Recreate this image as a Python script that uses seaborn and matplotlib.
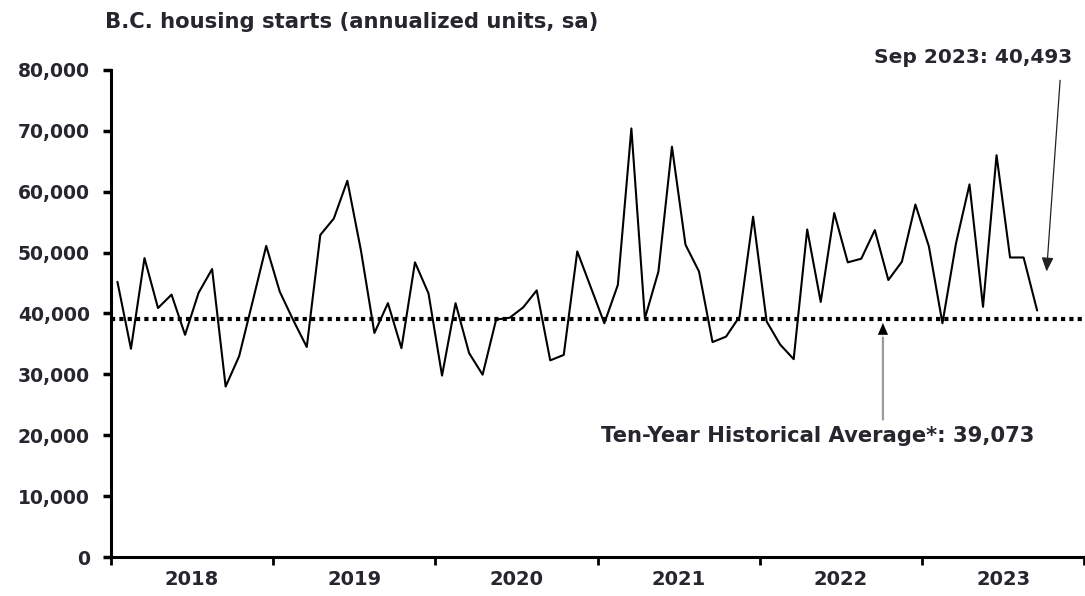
import numpy as np
import pandas as pd
import matplotlib
matplotlib.use("Agg")
import matplotlib.pyplot as plt
import seaborn as sns

# Monthly B.C. housing starts, seasonally adjusted annual rate
years = [2018, 2019, 2020, 2021, 2022, 2023]
starts_2018 = [45200, 34200, 49100, 40900, 43100, 36500, 43400, 47300, 28000, 33000, 42000, 51100]
starts_2019 = [43600, 38900, 34500, 52900, 55600, 61800, 50400, 36800, 41700, 34300, 48400, 43300]
starts_2020 = [29800, 41700, 33500, 29950, 39000, 39300, 41000, 43800, 32300, 33200, 50200, 44300]
starts_2021 = [38400, 44700, 70400, 39200, 46900, 67400, 51300, 46900, 35300, 36200, 39500, 55900]
starts_2022 = [38700, 34900, 32500, 53800, 41900, 56500, 48400, 49000, 53700, 45500, 48500, 57900]
starts_2023 = [51000, 38400, 51500, 61200, 41100, 66000, 49200, 49200, 40493]
ten_year_avg = 39073
y_ticks = [0, 10000, 20000, 30000, 40000, 50000, 60000, 70000, 80000]

values = starts_2018 + starts_2019 + starts_2020 + starts_2021 + starts_2022 + starts_2023
df = pd.DataFrame({"month": np.arange(len(values)), "starts": values})

sns.set_theme(style="white")
plt.rcParams["font.family"] = ["DejaVu Sans"]
plt.rcParams["font.weight"] = "bold"
TXT = "#26262e"

fig = plt.figure(figsize=(10.85, 5.96), dpi=100)
ax = fig.add_axes([0.102, 0.0654, 0.8975, 0.8172])

sns.lineplot(data=df, x="month", y="starts", ax=ax, color="black", linewidth=1.5)
ax.axhline(ten_year_avg, color="black", linewidth=3, linestyle=(0, (1, 1)), zorder=1)

n_months = 12 * len(years)
ax.set_xlim(-0.5, n_months - 0.5)
ax.set_ylim(0, 80000)

# Year boundaries as ticks, year labels centred in each year
ax.set_xticks(np.arange(-0.5, n_months, 12))
ax.set_xticklabels([])
ax.set_xticks(np.arange(5.5, n_months, 12), minor=True)
ax.set_xticklabels([str(y) for y in years], minor=True)
ax.tick_params(axis="x", which="major", direction="out", length=6, width=2, color="black", bottom=True)
ax.tick_params(axis="x", which="minor", length=0, pad=9, labelsize=14, labelcolor=TXT)

ax.set_yticks(y_ticks)
ax.set_yticklabels([f"{v:,}" for v in y_ticks])
ax.tick_params(axis="y", direction="out", length=6, width=2.5, color="black", left=True,
               pad=9, labelsize=13.5, labelcolor=TXT)

for s in ["top", "right"]:
    ax.spines[s].set_visible(False)
for s in ["left", "bottom"]:
    ax.spines[s].set_color("black")
    ax.spines[s].set_linewidth(2.2)
ax.set_xlabel("")
ax.set_ylabel("")
ax.grid(False)

fig.text(105 / 1085, 1 - 28 / 596, "B.C. housing starts (annualized units, sa)",
         fontsize=15.2, fontweight="bold", color=TXT, va="baseline", ha="left")

# Latest month callout
ax.text(63.3, 82100, f"Sep 2023: {values[-1]:,}", ha="center", va="center",
        fontsize=14.5, fontweight="bold", color=TXT, clip_on=False)
ax.annotate("", xy=(68.7, 46900), xytext=(69.7, 78300),
            arrowprops=dict(arrowstyle="-|>,head_length=0.7,head_width=0.3",
                            color="#222222", lw=0.9, shrinkA=0, shrinkB=0),
            annotation_clip=False)

# Ten-year average callout
ax.annotate("", xy=(56.6, 36000), xytext=(56.6, 22600),
            arrowprops=dict(arrowstyle="-", color="#9a9a9a", lw=1.6, shrinkA=0, shrinkB=0))
ax.annotate("", xy=(56.6, 38450), xytext=(56.6, 36000),
            arrowprops=dict(arrowstyle="-|>,head_length=0.7,head_width=0.3",
                            color="black", lw=0.1, shrinkA=0, shrinkB=0))
ax.text(51.8, 19800, f"Ten-Year Historical Average*: {ten_year_avg:,}", ha="center",
        va="center", fontsize=15.2, fontweight="bold", color=TXT)

fig.savefig("out.png", dpi=100)
